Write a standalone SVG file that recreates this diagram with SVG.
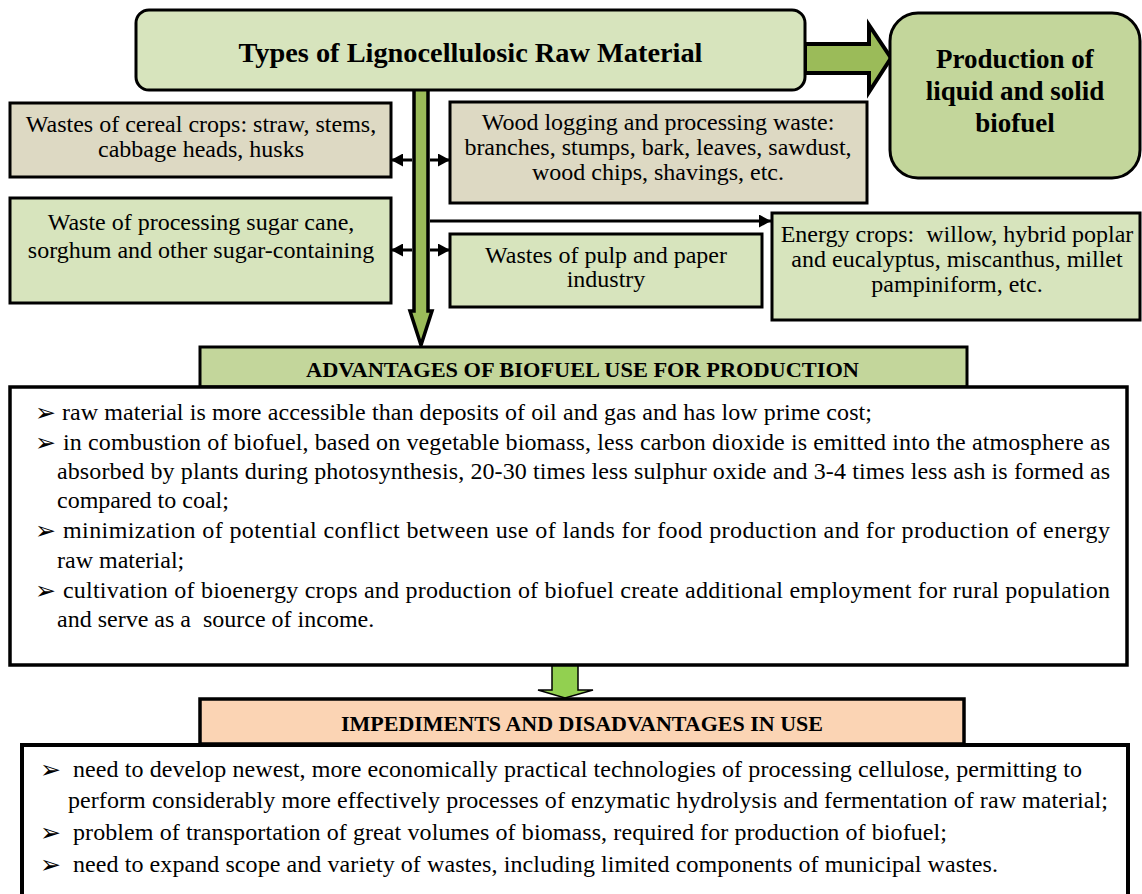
<svg xmlns="http://www.w3.org/2000/svg" width="1142" height="894" viewBox="0 0 1142 894">
<defs>
<style>
.box{stroke:#000;stroke-width:3}
.tan{fill:#ddd9c3}
.lg{fill:#d7e4bd}
.mg{fill:#c3d69b}
.t{font-family:"Liberation Serif","Times New Roman",serif;font-size:24px;fill:#000}
.c{text-anchor:middle}
.b{font-weight:bold}
.bul{font-family:"DejaVu Sans",sans-serif;font-size:25px;fill:#000}
.con{stroke:#000;stroke-width:3;fill:none}
</style>
<marker id="ah" markerUnits="userSpaceOnUse" markerWidth="12" markerHeight="13" refX="12" refY="6.5" orient="auto">
<path d="M0,0 L12,6.5 L0,13 z" fill="#000"/>
</marker>
</defs>
<rect width="1142" height="894" fill="#fff"/>

<g id="connectors">
<polygon points="805,44 869,44 869,25 891,58 869,92 869,73 805,73" fill="#9bbb59" stroke="#000" stroke-width="4" stroke-linejoin="miter"/>
<polygon points="414,89 428,89 428,311 432,311 421,345 410,311 414,311" fill="#9bbb59" stroke="#000" stroke-width="3.5"/>
<line class="con" x1="412" y1="160" x2="391" y2="160" marker-end="url(#ah)"/>
<line class="con" x1="430" y1="160" x2="450" y2="160" marker-end="url(#ah)"/>
<line class="con" x1="412" y1="250" x2="391" y2="250" marker-end="url(#ah)"/>
<line class="con" x1="430" y1="250" x2="450" y2="250" marker-end="url(#ah)"/>
<line class="con" x1="430" y1="221" x2="771" y2="221" marker-end="url(#ah)"/>
<polygon points="552,665 578,665 578,690 593,690 565,698 538,690 552,690" fill="#92d050" stroke="#000" stroke-width="1.5"/>
</g>

<g id="top">
<rect class="box lg" x="136" y="10" width="669" height="80" rx="13"/>
<text class="t c b" x="470.5" y="62" style="font-size:28px" textLength="464" lengthAdjust="spacingAndGlyphs">Types of Lignocellulosic Raw Material</text>
</g>

<g id="production">
<rect class="box mg" x="890" y="13" width="250" height="165" rx="28" stroke-width="3.5"/>
<text class="t c b" style="font-size:27px" x="1015" y="68">Production of</text>
<text class="t c b" style="font-size:27px" x="1015" y="100">liquid and solid</text>
<text class="t c b" style="font-size:27px" x="1015" y="132">biofuel</text>
</g>

<g id="cereal">
<rect class="box tan" x="10" y="103" width="381" height="74"/>
<text class="t c" x="201" y="132">Wastes of cereal crops: straw, stems,</text>
<text class="t c" x="201" y="157">cabbage heads, husks</text>
</g>

<g id="sugar">
<rect class="box lg" x="10" y="198" width="381" height="105"/>
<text class="t c" x="201" y="230">Waste of processing sugar cane,</text>
<text class="t c" x="201" y="258">sorghum and other sugar-containing</text>
</g>

<g id="wood">
<rect class="box tan" x="450" y="102" width="417" height="101"/>
<text class="t c" x="658" y="130">Wood logging and processing waste:</text>
<text class="t c" x="658" y="155">branches, stumps, bark, leaves, sawdust,</text>
<text class="t c" x="658" y="180">wood chips, shavings, etc.</text>
</g>

<g id="pulp">
<rect class="box lg" x="450" y="234" width="312" height="73"/>
<text class="t c" x="606" y="263">Wastes of pulp and paper</text>
<text class="t c" x="606" y="287">industry</text>
</g>

<g id="energy">
<rect class="box lg" x="772" y="213" width="368" height="107"/>
<text class="t c" x="957" y="242" xml:space="preserve">Energy crops:  willow, hybrid poplar</text>
<text class="t c" x="957" y="267">and eucalyptus, miscanthus, millet</text>
<text class="t c" x="957" y="292">pampiniform, etc.</text>
</g>

<g id="advantages">
<rect class="box mg" x="200" y="347" width="767" height="40" stroke-width="3.5"/>
<text class="t c b" style="font-size:22px" x="582.5" y="377" textLength="553" lengthAdjust="spacingAndGlyphs">ADVANTAGES OF BIOFUEL USE FOR PRODUCTION</text>
<rect x="10" y="387" width="1117" height="278" fill="#fff" stroke="#000" stroke-width="3.5"/>
<text class="bul" x="35" y="421">➢</text>
<text class="t" x="62" y="420" textLength="810">raw material is more accessible than deposits of oil and gas and has low prime cost;</text>
<text class="bul" x="35" y="451">➢</text>
<text class="t" x="63" y="450" textLength="1047">in combustion of biofuel, based on vegetable biomass, less carbon dioxide is emitted into the atmosphere as</text>
<text class="t" x="57" y="479" textLength="1053">absorbed by plants during photosynthesis, 20-30 times less sulphur oxide and 3-4 times less ash is formed as</text>
<text class="t" x="57" y="508">compared to coal;</text>
<text class="bul" x="35" y="539">➢</text>
<text class="t" x="63" y="538" textLength="1047">minimization of potential conflict between use of lands for food production and for production of energy</text>
<text class="t" x="57" y="568">raw material;</text>
<text class="bul" x="35" y="599">➢</text>
<text class="t" x="63" y="598" textLength="1047">cultivation of bioenergy crops and production of biofuel create additional employment for rural population</text>
<text class="t" x="57" y="627" xml:space="preserve">and serve as a  source of income.</text>
</g>

<g id="impediments">
<rect x="200" y="699" width="764" height="45" fill="#fbd4b4" stroke="#000" stroke-width="3.5"/>
<text class="t c b" style="font-size:22px" x="582" y="731">IMPEDIMENTS AND DISADVANTAGES IN USE</text>
<rect x="22" y="745" width="1106" height="160" fill="#fff" stroke="#000" stroke-width="4"/>
<text class="bul" x="40" y="778">➢</text>
<text class="t" x="73" y="777" textLength="1009">need to develop newest, more economically practical technologies of processing cellulose, permitting to</text>
<text class="t" x="68" y="808" textLength="1040">perform considerably more effectively processes of enzymatic hydrolysis and fermentation of raw material;</text>
<text class="bul" x="40" y="841">➢</text>
<text class="t" x="73" y="840" textLength="874">problem of transportation of great volumes of biomass, required for production of biofuel;</text>
<text class="bul" x="40" y="873">➢</text>
<text class="t" x="73" y="872" textLength="925">need to expand scope and variety of wastes, including limited components of municipal wastes.</text>
</g>
</svg>
